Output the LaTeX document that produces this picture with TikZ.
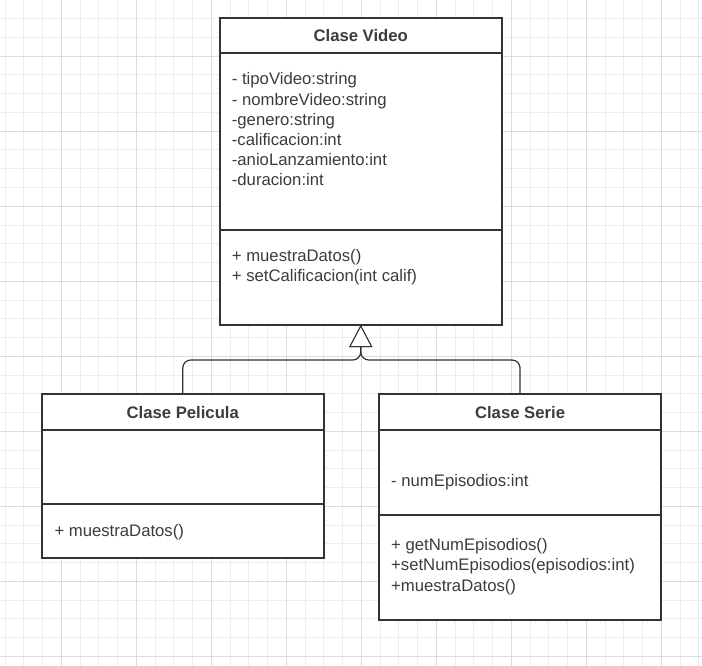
\documentclass[tikz,border=0pt]{standalone}
\usepackage{fontspec}
\setmainfont{Liberation Sans}
\usetikzlibrary{arrows.meta}

\definecolor{gridminor}{HTML}{EDEDED}
\definecolor{gridmajor}{HTML}{DCDCDC}
\definecolor{umlline}{HTML}{333333}
\definecolor{umltext}{HTML}{3C3C3C}

\begin{document}
\begin{tikzpicture}[x=1pt, y=-1pt,
  box/.style={draw=umlline, line width=2pt, fill=white, inner sep=0pt,
    outer sep=0pt, minimum width=281.5pt},
  title/.style={text=umltext, font=\fontsize{16.7}{20}\selectfont\bfseries},
  member/.style={anchor=base west, inner sep=0pt, text=umltext,
    font=\fontsize{16.7}{20}\selectfont},
  inherit/.style={draw=umlline, line width=1.2pt, rounded corners=8pt,
    -{Triangle[length=22pt, width=23pt, fill=white, line width=1pt]}}
]

  \useasboundingbox (0,0) rectangle (702,666);

  % grid
  \foreach \i in {0,...,37}
    \draw[gridminor, line width=1pt] ({5.05+18.75*\i},0) -- ({5.05+18.75*\i},666);
  \foreach \j in {0,...,35}
    \draw[gridminor, line width=1pt] (0,{18.75*\j}) -- (702,{18.75*\j});
  \foreach \i in {3,7,...,35}
    \draw[gridmajor, line width=1pt] ({5.05+18.75*\i},0) -- ({5.05+18.75*\i},666);
  \foreach \j in {3,7,...,35}
    \draw[gridmajor, line width=1pt] (0,{18.75*\j}) -- (702,{18.75*\j});

  % Clase Video
  \node[box, title, anchor=north west, minimum height=35pt] (video) at (220,18.3) {Clase Video};
  \node[box, anchor=north, minimum height=176.7pt] (videoattr) at (video.south) {};
  \node[box, anchor=north, minimum height=95pt] (videometh) at (videoattr.south) {};

  % Clase Pelicula
  \node[box, title, anchor=north west, minimum height=35.7pt] (pelicula) at (42,394.3) {Clase Pelicula};
  \node[box, anchor=north, minimum height=74.3pt] (peliculaattr) at (pelicula.south) {};
  \node[box, anchor=north, minimum height=54pt] (peliculameth) at (peliculaattr.south) {};

  % Clase Serie
  \node[box, title, anchor=north west, minimum height=35.7pt] (serie) at (379.3,394.3) {Clase Serie};
  \node[box, anchor=north, minimum height=85pt] (serieattr) at (serie.south) {};
  \node[box, anchor=north, minimum height=105pt] (seriemeth) at (serieattr.south) {};

  % members
  \foreach \entry [count=\i] in {- tipoVideo:string, - nombreVideo:string, -genero:string,
      -calificacion:int, -anioLanzamiento:int, -duracion:int}
    \node[member] (vattr\i) at (231.7,{64.8+20.2*\i}) {\entry};
  \foreach \entry [count=\i] in {+ muestraDatos(), + setCalificacion(int calif)}
    \node[member] (vmeth\i) at (231.7,{240.8+20.2*\i}) {\entry};

  \node[member] (pmeth1) at (54.3,536) {+ muestraDatos()};

  \node[member] (sattr1) at (391,486) {- numEpisodios:int};
  \foreach \entry [count=\i] in {+ getNumEpisodios(), +setNumEpisodios(episodios:int),
      +muestraDatos()}
    \node[member] (smeth\i) at (391,{530.5+20.2*\i}) {\entry};

  % herencia
  \coordinate (fork) at (videometh.south |- 0,360);
  \draw[inherit] (pelicula.north) |- (fork) -- (videometh.south);
  \draw[inherit] (serie.north) |- (fork) -- (videometh.south);

\end{tikzpicture}
\end{document}
